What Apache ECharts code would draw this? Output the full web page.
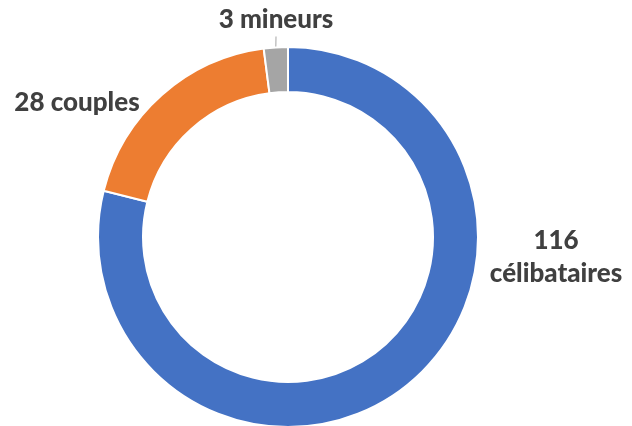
<!DOCTYPE html>
<html>
<head>
<meta charset="utf-8">
<script src="https://cdn.jsdelivr.net/npm/echarts@6/dist/echarts.min.js"></script>
<style>html,body{margin:0;padding:0;background:#fff}#c{width:632px;height:426px}</style>
</head>
<body>
<div id="c"></div>
<script>
const categories = ['célibataires', 'couples', 'mineurs'];
const values = [116, 28, 3];
const colors = ['#4472C4', '#ED7D31', '#A5A5A5'];
const labelFormats = ['{c}\n{b}', '{c} {b}', '{c} {b}'];
const labelSpots = [
  {x: 556, y: 257, align: 'center'},
  {x: 77, y: 103, align: 'center'},
  {x: 276, y: 20, align: 'center'}
];

const chart = echarts.init(document.getElementById('c'));
chart.setOption({
  backgroundColor: '#fff',
  animation: false,
  series: [{
    type: 'pie',
    center: [288, 237],
    radius: [145, 190],
    startAngle: 90,
    clockwise: true,
    silent: true,
    itemStyle: {borderColor: '#fff', borderWidth: 2},
    label: {
      show: true,
      position: 'outside',
      fontFamily: 'Lato',
      fontWeight: 900,
      fontSize: 26,
      lineHeight: 33,
      color: '#404040',
      overflow: 'none',
      width: 220
    },
    labelLine: {show: false},
    labelLayout: function (p) {
      const s = labelSpots[p.dataIndex];
      return {x: s.x, y: s.y, align: s.align, verticalAlign: 'middle', moveOverlap: false};
    },
    data: categories.map((n, i) => ({
      name: n,
      value: values[i],
      itemStyle: {color: colors[i]},
      label: {formatter: labelFormats[i]},
      labelLine: i === 2 ? {show: true, length: 4, length2: 0, lineStyle: {color: '#A5A5A5', width: 1}} : {show: false}
    }))
  }]
});
</script>
</body>
</html>
